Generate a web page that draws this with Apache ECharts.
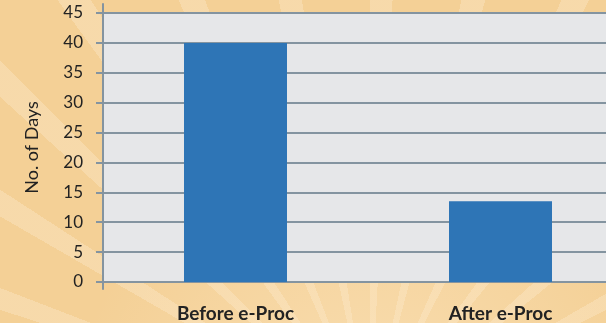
<!DOCTYPE html>
<html>
<head>
<meta charset="utf-8">
<script src="https://cdn.jsdelivr.net/npm/echarts@6/dist/echarts.min.js"></script>
<style>
  html, body {
    margin: 0;
    padding: 0;
  }
  body {
    width: 606px;
    height: 323px;
    overflow: hidden;
    background-color: #f4d096;
    background-image:
      radial-gradient(circle at 370px 430px, rgba(255, 236, 205, 0.5) 0, rgba(255, 236, 205, 0) 300px),
      repeating-conic-gradient(from 0deg at 370px 430px,
        rgba(255, 240, 218, 0.3) 0deg 3deg,
        rgba(255, 240, 218, 0) 3deg 12deg);
  }
  #chart {
    width: 606px;
    height: 323px;
  }
</style>
</head>
<body>
<div id="chart"></div>
<script>
// Chart data
const categories = ['Before e-Proc', 'After e-Proc'];
const days = [40, 13.5];
const yTicks = { min: 0, max: 45, interval: 5 };

const AXIS_COLOR = '#8494a0';
const TEXT_COLOR = '#222222';
const FONT = 'Lato, "Open Sans", sans-serif';

const chart = echarts.init(document.getElementById('chart'));

chart.setOption({
  animation: false,
  grid: [
    {
      // main plot area, runs past the right edge like the original
      left: 103,
      top: 13,
      height: 269,
      width: 530,
      outerBoundsMode: 'none',
      show: true,
      backgroundColor: '#e6e7e9',
      borderWidth: 0,
    },
    {
      // only used for the taller vertical axis line
      left: 103,
      top: 4,
      height: 285,
      width: 10,
      outerBoundsMode: 'none',
      show: false,
    },
  ],
  xAxis: [
    {
      type: 'category',
      data: categories,
      gridIndex: 0,
      axisLine: { show: true, lineStyle: { color: AXIS_COLOR, width: 2 } },
      axisTick: { show: false },
      axisLabel: {
        margin: 22,
        color: TEXT_COLOR,
        fontFamily: FONT,
        fontSize: 19,
        fontWeight: 'bold',
      },
    },
    {
      type: 'value',
      gridIndex: 1,
      show: false,
    },
  ],
  yAxis: [
    {
      type: 'value',
      gridIndex: 0,
      min: yTicks.min,
      max: yTicks.max,
      interval: yTicks.interval,
      name: 'No. of Days',
      nameLocation: 'middle',
      nameGap: 62,
      nameTextStyle: {
        color: TEXT_COLOR,
        fontFamily: FONT,
        fontSize: 18,
      },
      axisLine: { show: false },
      axisTick: { show: true, length: 7, lineStyle: { color: AXIS_COLOR, width: 2 } },
      axisLabel: {
        margin: 20,
        color: TEXT_COLOR,
        fontFamily: FONT,
        fontSize: 17,
      },
      splitLine: { show: true, lineStyle: { color: AXIS_COLOR, width: 2 } },
    },
    {
      type: 'value',
      gridIndex: 1,
      min: 0,
      max: 1,
      axisLine: { show: true, lineStyle: { color: AXIS_COLOR, width: 2 } },
      axisTick: { show: false },
      axisLabel: { show: false },
      splitLine: { show: false },
    },
  ],
  series: [
    {
      type: 'bar',
      xAxisIndex: 0,
      yAxisIndex: 0,
      data: days,
      barWidth: 103,
      itemStyle: { color: '#2e75b6' },
    },
  ],
});
</script>
</body>
</html>
